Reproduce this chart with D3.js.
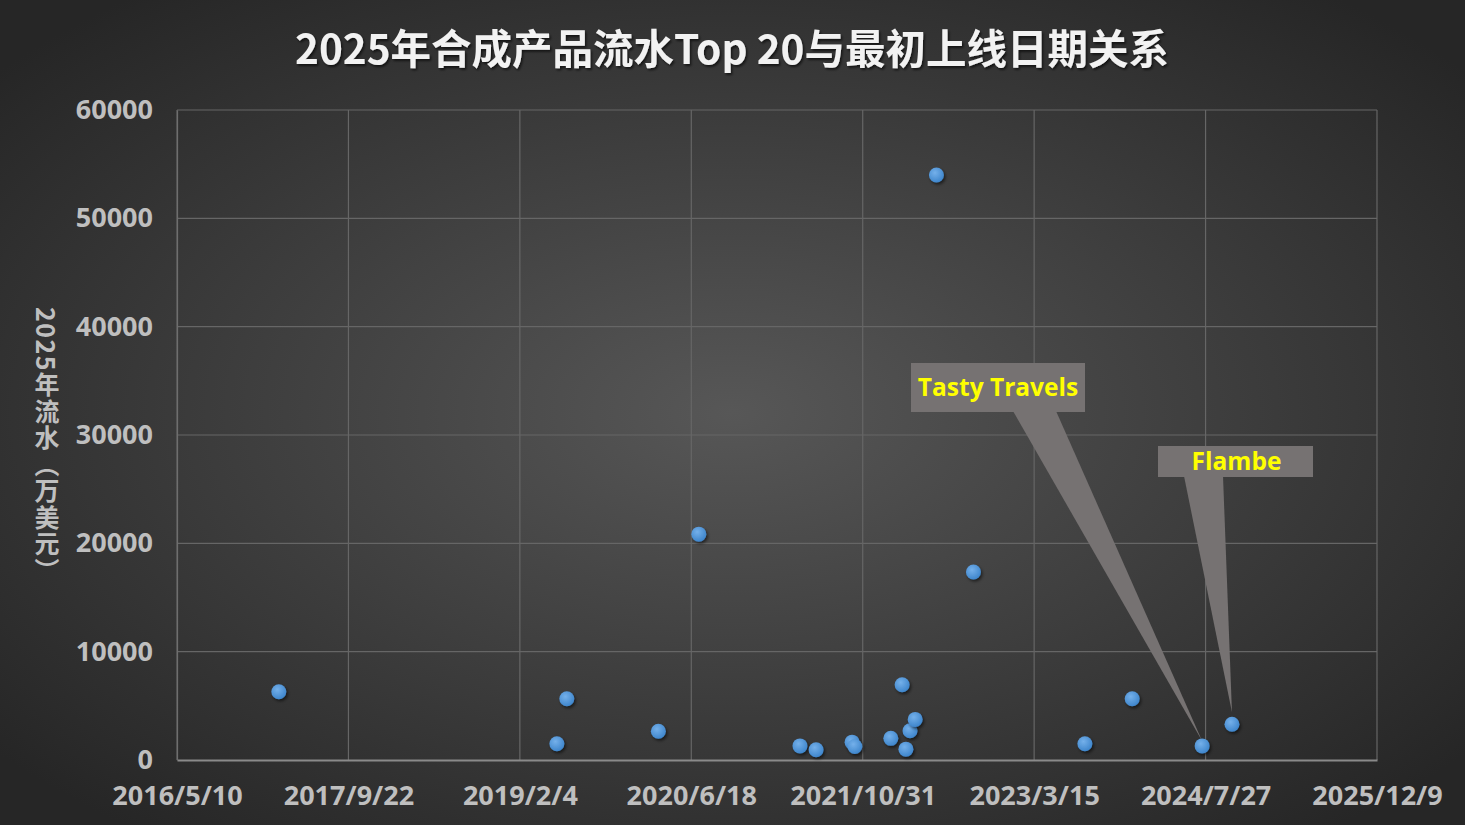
<!DOCTYPE html>
<html><head><meta charset="utf-8">
<script src="https://cdn.jsdelivr.net/npm/d3@7"></script>
<style>
html,body{margin:0;padding:0;background:#2b2b2b;}
svg{display:block;}
</style></head>
<body>
<svg id="c" width="1465" height="825"></svg>
<script>
// ---- data ----
const launchDates = ["2017-03-03","2019-05-23","2019-06-21","2020-03-14","2020-07-10","2021-05-01","2021-06-17","2021-09-30","2021-10-08","2022-01-21","2022-02-23","2022-03-06","2022-03-18","2022-04-02","2022-06-03","2022-09-19","2023-08-10","2023-12-26","2024-07-17","2024-10-12"];
const revenue = [6300,1500,5650,2650,20850,1300,950,1650,1250,2000,6950,1000,2700,3750,54000,17350,1500,5650,1300,3300];
const xTickLabels = ["2016/5/10","2017/9/22","2019/2/4","2020/6/18","2021/10/31","2023/3/15","2024/7/27","2025/12/9"];
const yTicks = [0,10000,20000,30000,40000,50000,60000];
const calloutNames = ["Tasty Travels","Flambe"];
const calloutIndex = [18,19];
const titleText = "2025年合成产品流水Top 20与最初上线日期关系";
const yTitle = "2025年流水（万美元）";

const parse = d3.timeParse("%Y-%m-%d");
const tickParse = d3.timeParse("%Y/%m/%d");
const fmt = d3.timeFormat("%Y/%-m/%-d");
const data = launchDates.map((d,i)=>({date:parse(d), v:revenue[i]}));
const tickDates = xTickLabels.map(s=>tickParse(s));

const svg = d3.select("#c");
const W=1465,H=825;
const defs = svg.append("defs");
const bg = defs.append("radialGradient").attr("id","bg").attr("cx","50%").attr("cy","50%").attr("r","65%");
bg.append("stop").attr("offset","0%").attr("stop-color","#575757");
bg.append("stop").attr("offset","100%").attr("stop-color","#262626");
const pg = defs.append("radialGradient").attr("id","pt").attr("cx","40%").attr("cy","35%").attr("r","65%");
pg.append("stop").attr("offset","0%").attr("stop-color","#74b0ea");
pg.append("stop").attr("offset","100%").attr("stop-color","#3f86cc");
const sh = defs.append("filter").attr("id","sh").attr("x","-50%").attr("y","-50%").attr("width","200%").attr("height","200%");
sh.append("feDropShadow").attr("dx",1.5).attr("dy",2).attr("stdDeviation",1.5).attr("flood-color","#000").attr("flood-opacity",0.55);
const tsh = defs.append("filter").attr("id","tsh").attr("x","-5%").attr("y","-20%").attr("width","110%").attr("height","140%");
tsh.append("feDropShadow").attr("dx",1.5).attr("dy",2).attr("stdDeviation",1.2).attr("flood-color","#000").attr("flood-opacity",0.6);

svg.append("rect").attr("width",W).attr("height",H).attr("fill","url(#bg)");

const x = d3.scaleTime().domain([tickDates[0], tickDates[tickDates.length-1]]).range([177,1377]);
const y = d3.scaleLinear().domain([0,60000]).range([760,110]);

// gridlines
const g = svg.append("g");
g.selectAll(".hg").data(yTicks.slice(1)).join("line")
  .attr("x1",x.range()[0]).attr("x2",x.range()[1])
  .attr("y1",d=>y(d)).attr("y2",d=>y(d))
  .attr("stroke","#666").attr("stroke-width",1.2);
g.selectAll(".vg").data(tickDates).join("line")
  .attr("x1",d=>x(d)).attr("x2",d=>x(d))
  .attr("y1",y(0)).attr("y2",y(60000))
  .attr("stroke","#666").attr("stroke-width",1.2);

// axes
const xAxis = d3.axisBottom(x).tickValues(tickDates).tickFormat(fmt).tickSize(0).tickPadding(26);
const xg = svg.append("g").attr("transform",`translate(0,${y(0)})`).call(xAxis);
xg.select(".domain").attr("stroke","#8a8a8a").attr("stroke-width",2);
xg.selectAll("text").attr("fill","#bfbfbf").attr("font-size",27).attr("font-weight","bold")
  .attr("font-family","'Open Sans','Noto Sans',sans-serif");

const yAxis = d3.axisLeft(y).tickValues(yTicks).tickFormat(d3.format("d")).tickSize(0).tickPadding(24);
const yg = svg.append("g").attr("transform",`translate(${x.range()[0]},0)`).call(yAxis);
yg.select(".domain").attr("stroke","#6e6e6e").attr("stroke-width",1.2);
yg.selectAll("text").attr("fill","#bfbfbf").attr("font-size",27).attr("font-weight","bold")
  .attr("font-family","'Open Sans','Noto Sans',sans-serif");

// callouts
const cfg = [
  {bx:911,by:363,bw:174,bh:49,b1:1013,b2:1056,tipDy:-5},
  {bx:1158,by:446,bw:155,bh:31,b1:1184,b2:1223,tipDy:-12}
];
calloutNames.forEach((name,k)=>{
  const d = data[calloutIndex[k]], c = cfg[k];
  const tx = x(d.date), ty = y(d.v)+c.tipDy;
  svg.append("path").attr("d",`M${c.b1},${c.by+c.bh-1}L${tx},${ty}L${c.b2},${c.by+c.bh-1}Z`).attr("fill","#767272");
  svg.append("rect").attr("x",c.bx).attr("y",c.by).attr("width",c.bw).attr("height",c.bh).attr("fill","#767272");
  svg.append("text").attr("x",c.bx+c.bw/2+(k==1?1:0)).attr("y",c.by+c.bh/2).attr("dy","0.35em")
    .attr("text-anchor","middle").attr("fill","#ffff00").attr("font-size",24.5).attr("font-weight","bold")
    .attr("font-family","'Open Sans','Noto Sans',sans-serif").text(name);
});

// points
svg.append("g").selectAll("circle").data(data).join("circle")
  .attr("cx",d=>x(d.date)).attr("cy",d=>y(d.v)).attr("r",7.5)
  .attr("fill","url(#pt)").attr("filter","url(#sh)");

// title
svg.append("text").attr("x",732).attr("y",50).attr("dy","0.35em").attr("text-anchor","middle")
  .attr("fill","#f2f2f2").attr("font-size",40.5).attr("font-weight","bold")
  .attr("font-family","'Noto Sans CJK SC',sans-serif").attr("filter","url(#tsh)").text(titleText);

// y title (vertical)
svg.append("text").attr("x",47).attr("y",307)
  .attr("fill","#bfbfbf").attr("font-size",25).attr("font-weight","bold")
  .attr("font-family","'Noto Sans CJK SC',sans-serif")
  .style("letter-spacing","1.5px")
  .style("writing-mode","vertical-rl").style("text-orientation","mixed").text(yTitle);
</script>
</body></html>
